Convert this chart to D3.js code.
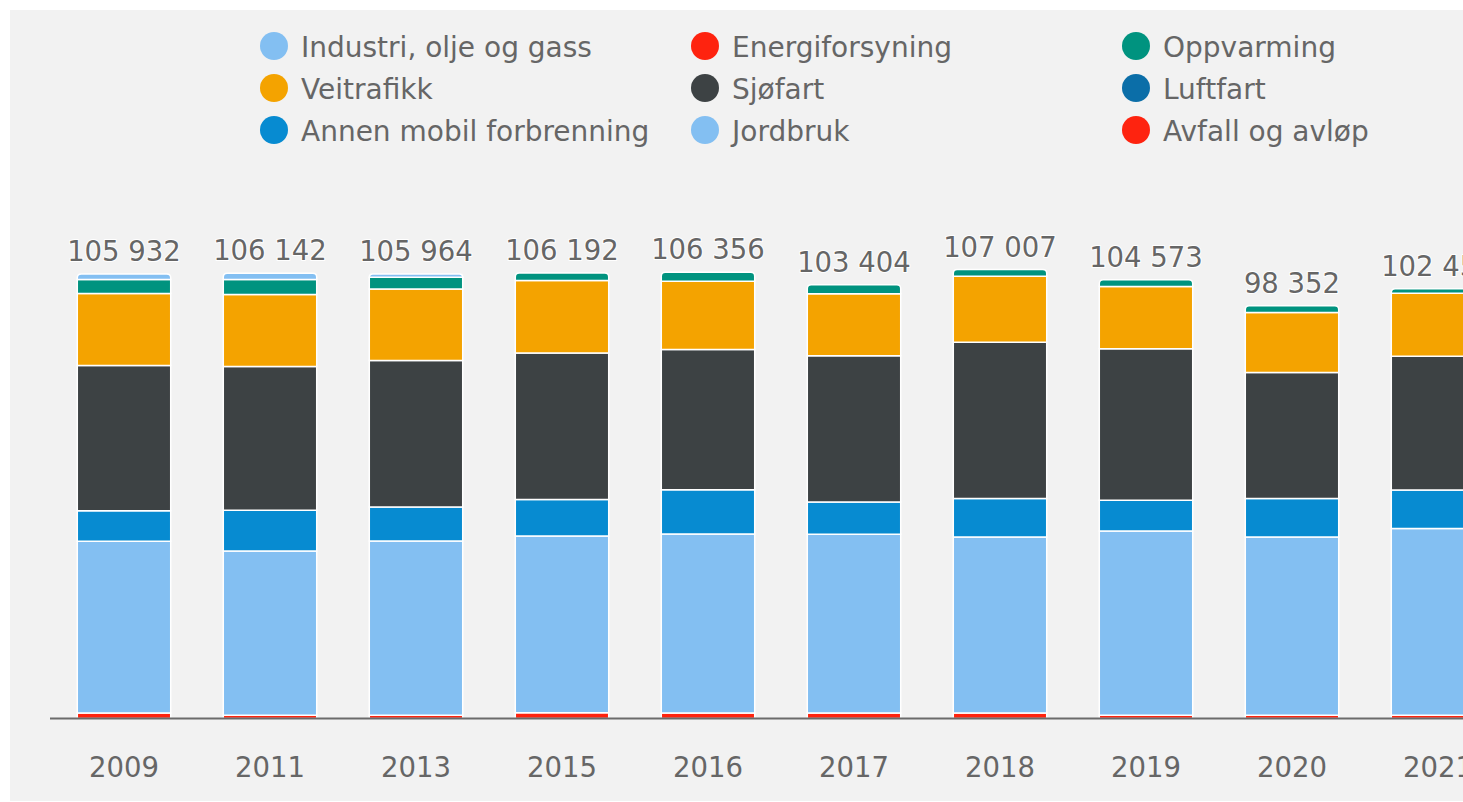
<!DOCTYPE html>
<html>
<head>
<meta charset="utf-8">
<script src="https://cdn.jsdelivr.net/npm/d3@7"></script>
<style>
  body { margin: 0; background: #ffffff; overflow: hidden; }
  text { font-family: "DejaVu Sans", sans-serif; }
</style>
</head>
<body>
<div id="chart"></div>
<script>
const width = 1463;
const height = 802;

const years = ["2009", "2011", "2013", "2015", "2016", "2017", "2018", "2019", "2020", "2021"];
const seriesNames = [
  "Industri, olje og gass", "Energiforsyning", "Oppvarming",
  "Veitrafikk", "Sjøfart", "Luftfart",
  "Annen mobil forbrenning", "Jordbruk", "Avfall og avløp"
];
const seriesColors = [
  "#83bff2", "#fe230f", "#00937f",
  "#f4a300", "#3d4244", "#0b6ea8",
  "#078bd1", "#83bff2", "#fe230f"
];

// values per series, one per year
const industri = [1331, 1501, 810, 0, 0, 0, 0, 0, 0, 0];
const energiforsyning = [0, 0, 0, 0, 0, 0, 0, 0, 0, 0];
const oppvarming = [3328, 3573, 2762, 1819, 2151, 2149, 1597, 1596, 1573, 1122];
const veitrafikk = [17117, 17150, 17072, 17237, 16252, 14806, 15728, 14840, 14304, 14973];
const sjofart = [34637, 34301, 34930, 34952, 33460, 34865, 37246, 36135, 30038, 31904];
const luftfart = [0, 0, 0, 0, 0, 0, 0, 0, 0, 0];
const annenMobil = [7298, 9695, 8095, 8714, 10516, 7642, 9151, 7313, 9155, 9170];
const jordbruk = [40890, 39136, 41509, 42129, 42639, 42605, 41951, 43903, 42495, 44493];
const avfall = [1331, 786, 786, 1341, 1338, 1337, 1334, 786, 787, 788];

const seriesValues = [industri, energiforsyning, oppvarming, veitrafikk, sjofart,
  luftfart, annenMobil, jordbruk, avfall];

// rows for d3.stack
const rows = years.map((y, i) => {
  const r = { year: y };
  seriesNames.forEach((name, s) => { r[name] = seriesValues[s][i]; });
  return r;
});

const svg = d3.select("#chart").append("svg")
  .attr("width", width)
  .attr("height", height);

svg.append("rect")
  .attr("x", 10).attr("y", 10)
  .attr("width", width).attr("height", 791)
  .attr("fill", "#f2f2f2");

const x = d3.scaleBand()
  .domain(years)
  .range([51, 51 + 146 * years.length])
  .paddingInner(0.36)
  .paddingOuter(0.18);

const y = d3.scaleLinear()
  .domain([0, 120000])
  .range([718.5, 215]);

const fmt = d3.formatLocale({ decimal: ",", thousands: " ", grouping: [3], currency: ["", ""] }).format(",");

// first series sits on top, so stack bottom-up in reverse order
const keys = seriesNames.slice().reverse();
const stacked = d3.stack().keys(keys)(rows);

// index of top-most non-zero segment per year
const topKey = years.map((yr, i) => {
  for (let s = 0; s < seriesNames.length; s++) {
    if (seriesValues[s][i] > 0) return seriesNames[s];
  }
  return null;
});

function segPath(x0, y0, w, y1, rounded) {
  const r = rounded ? Math.min(4, (y0 - y1)) : 0;
  return `M${x0},${y0}V${y1 + r}` +
    (r ? `Q${x0},${y1} ${x0 + r},${y1}` : "") +
    `H${x0 + w - r}` +
    (r ? `Q${x0 + w},${y1} ${x0 + w},${y1 + r}` : "") +
    `V${y0}Z`;
}

const bars = svg.append("g");
stacked.forEach((layer) => {
  const color = seriesColors[seriesNames.indexOf(layer.key)];
  bars.append("g")
    .selectAll("path")
    .data(layer.filter((d) => d[1] - d[0] > 0))
    .join("path")
    .attr("d", (d) => {
      const i = years.indexOf(d.data.year);
      return segPath(x(d.data.year), y(d[0]), x.bandwidth(), y(d[1]), topKey[i] === layer.key);
    })
    .attr("fill", color)
    .attr("stroke", "#ffffff")
    .attr("stroke-width", 1.5);
});

// x axis line
svg.append("line")
  .attr("x1", 50).attr("x2", width)
  .attr("y1", 718.5).attr("y2", 718.5)
  .attr("stroke", "#6b6b6b")
  .attr("stroke-width", 2);

svg.append("g")
  .selectAll("text")
  .data(years)
  .join("text")
  .attr("x", (d) => x(d) + x.bandwidth() / 2)
  .attr("y", 777)
  .attr("text-anchor", "middle")
  .attr("font-size", "27.5px")
  .attr("fill", "#666666")
  .text((d) => d);

// stack totals
const totals = years.map((yr, i) => d3.sum(seriesValues, (v) => v[i]));
svg.append("g")
  .selectAll("text")
  .data(years)
  .join("text")
  .attr("x", (d) => x(d) + x.bandwidth() / 2)
  .attr("y", (d, i) => y(totals[i]) - 13)
  .attr("text-anchor", "middle")
  .attr("font-size", "27.5px")
  .attr("fill", "#666666")
  .attr("stroke", "#ffffff")
  .attr("stroke-width", 2)
  .attr("stroke-linejoin", "round")
  .attr("paint-order", "stroke")
  .text((d, i) => fmt(totals[i]));

// legend, 3 columns
const legendX = [274, 705, 1136];
const legendY = [46, 88, 130];
const legend = svg.append("g")
  .selectAll("g")
  .data(seriesNames)
  .join("g")
  .attr("transform", (d, i) => `translate(${legendX[i % 3]},${legendY[Math.floor(i / 3)]})`);

legend.append("circle")
  .attr("r", 14)
  .attr("fill", (d, i) => seriesColors[i]);

legend.append("text")
  .attr("x", 27)
  .attr("y", 10.5)
  .attr("font-size", "28px")
  .attr("fill", "#666666")
  .text((d) => d);
</script>
</body>
</html>
